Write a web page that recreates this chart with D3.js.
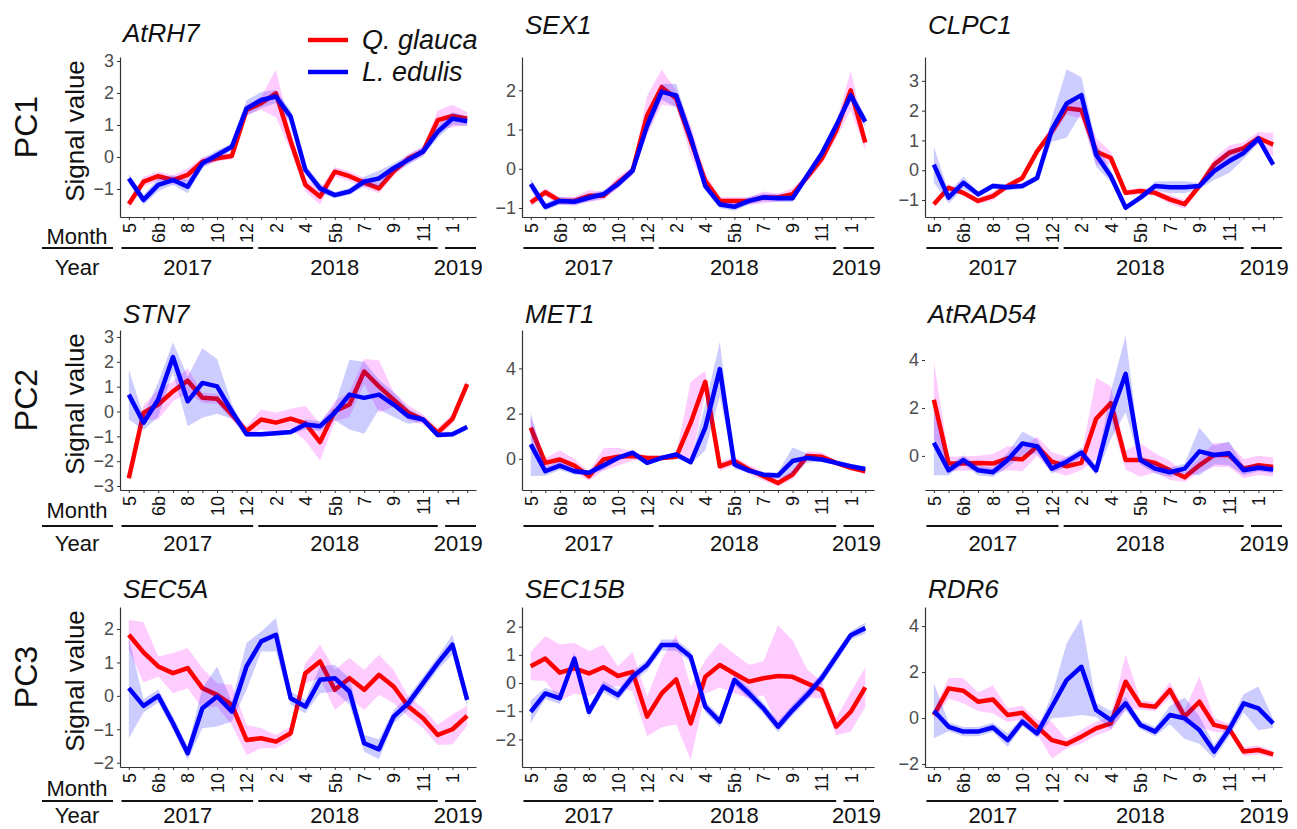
<!DOCTYPE html>
<html>
<head>
<meta charset="utf-8">
<script src="https://cdn.jsdelivr.net/npm/d3@7"></script>
<style>
  body { margin: 0; background: #fff; }
  svg { font-family: "Liberation Sans", Arial, sans-serif; }
</style>
</head>
<body>
<div id="chart"></div>
<script>
// sampling points: 2017-5 .. 2019-2
const months = ['5','6a','6b','7','8','9','10','11','12','1','2','3','4','5a','5b','6','7','8','9','10','11','12','1','2'];
const monthTickLabels = ['5','','6b','','8','','10','','12','','2','','4','','5b','','7','','9','','11','','1',''];
const years = ['2017', '2018', '2019'];
const yearFrom = [-0.5, 8.8, 21.5];
const yearTo = [8.45, 21.0, 23.6];
const yearLabelAt = [4, 14, 22.4];

const species = ['Q. glauca', 'L. edulis'];
const genes = ['AtRH7', 'SEX1', 'CLPC1', 'STN7', 'MET1', 'AtRAD54', 'SEC5A', 'SEC15B', 'RDR6'];
const pcs = ['PC1', 'PC2', 'PC3'];

const yMin = [-1.875, -1.23, -1.57, -3.16, -1.38, -1.42, -2.13, -2.98, -2.13];
const yMax = [3.125, 2.85, 3.8, 3.28, 5.7, 5.25, 2.66, 2.7, 4.83];
const yTicks = [
  [-1, 0, 1, 2, 3], [-1, 0, 1, 2], [-1, 0, 1, 2, 3],
  [-3, -2, -1, 0, 1, 2, 3], [0, 2, 4], [0, 2, 4],
  [-2, -1, 0, 1, 2], [-2, -1, 0, 1, 2], [-2, 0, 2, 4]
];

// mean signal values, Q. glauca
const qMean = [
  [-1.47, -0.77, -0.6, -0.72, -0.56, -0.15, -0.04, 0.03, 1.47, 1.68, 1.99, 0.5, -0.87, -1.24, -0.46, -0.6, -0.8, -0.98, -0.45, -0.05, 0.17, 1.15, 1.28, 1.2],
  [-0.86, -0.6, -0.82, -0.82, -0.69, -0.69, -0.35, -0.05, 1.36, 2.08, 1.79, 0.72, -0.31, -0.82, -0.82, -0.82, -0.73, -0.73, -0.65, -0.22, 0.25, 0.97, 2.0, 0.67],
  [-1.14, -0.59, -0.76, -1.03, -0.87, -0.53, -0.26, 0.63, 1.3, 2.08, 2.02, 0.63, 0.41, -0.76, -0.7, -0.76, -0.98, -1.14, -0.53, 0.19, 0.58, 0.74, 1.08, 0.86],
  [-2.69, -0.05, 0.28, 0.81, 1.24, 0.55, 0.51, -0.12, -0.79, -0.32, -0.45, -0.29, -0.48, -1.23, 0.01, 0.28, 1.61, 1.01, 0.48, -0.05, -0.32, -0.85, -0.3, 1.1],
  [1.38, -0.18, -0.03, -0.3, -0.77, -0.03, 0.09, 0.12, 0.04, 0.04, 0.09, 1.6, 3.41, -0.33, -0.1, -0.47, -0.77, -1.07, -0.7, 0.12, 0.09, -0.18, -0.4, -0.55],
  [2.34, -0.32, -0.32, -0.29, -0.32, -0.1, -0.14, 0.4, -0.24, -0.43, -0.29, 1.55, 2.2, -0.17, -0.17, -0.29, -0.6, -0.89, -0.39, 0.04, 0.04, -0.53, -0.39, -0.46],
  [1.83, 1.3, 0.88, 0.68, 0.83, 0.23, 0.03, -0.27, -1.32, -1.27, -1.37, -1.12, 0.68, 1.03, 0.18, 0.53, 0.18, 0.63, 0.28, -0.32, -0.67, -1.17, -1.0, -0.6],
  [0.6, 0.87, 0.37, 0.52, 0.34, 0.56, 0.25, 0.4, -1.19, -0.37, 0.13, -1.43, 0.22, 0.64, 0.34, 0.05, 0.17, 0.25, 0.22, -0.01, -0.25, -1.55, -1.02, -0.15],
  [0.13, 1.29, 1.19, 0.71, 0.81, 0.13, 0.23, -0.38, -0.96, -1.13, -0.81, -0.45, -0.23, 1.58, 0.57, 0.49, 1.22, 0.06, 0.71, -0.3, -0.45, -1.46, -1.39, -1.58]
];
const qSd = [
  [0.15, 0.15, 0.15, 0.15, 0.2, 0.15, 0.1, 0.1, 0.15, 0.2, 0.75, 0.3, 0.2, 0.25, 0.15, 0.15, 0.15, 0.15, 0.15, 0.15, 0.15, 0.3, 0.35, 0.2],
  [0.1, 0.1, 0.1, 0.1, 0.15, 0.1, 0.15, 0.1, 0.5, 0.45, 0.2, 0.4, 0.2, 0.1, 0.1, 0.1, 0.15, 0.1, 0.15, 0.1, 0.15, 0.2, 0.5, 0.2],
  [0.1, 0.1, 0.1, 0.1, 0.15, 0.1, 0.1, 0.1, 0.2, 0.2, 0.3, 0.45, 0.2, 0.1, 0.1, 0.1, 0.15, 0.15, 0.1, 0.2, 0.25, 0.2, 0.2, 0.4],
  [0.15, 0.3, 0.6, 0.4, 0.5, 0.2, 0.2, 0.2, 0.2, 0.4, 0.4, 0.4, 0.7, 0.75, 0.4, 0.5, 0.5, 1.05, 0.3, 0.3, 0.2, 0.2, 0.2, 0.2],
  [0.5, 0.2, 0.4, 0.3, 0.2, 0.5, 0.4, 0.2, 0.1, 0.1, 0.1, 1.8, 0.5, 0.2, 0.2, 0.2, 0.2, 0.15, 0.2, 0.2, 0.2, 0.1, 0.1, 0.1],
  [1.6, 0.3, 0.3, 0.3, 0.4, 0.5, 0.5, 0.4, 0.4, 0.4, 0.3, 1.7, 0.7, 0.4, 0.7, 0.4, 0.4, 0.2, 0.3, 0.5, 0.5, 0.4, 0.4, 0.4],
  [0.45, 0.9, 0.3, 0.6, 0.6, 0.6, 0.35, 0.6, 0.45, 0.3, 0.2, 0.2, 0.3, 0.5, 0.6, 0.6, 0.6, 0.6, 0.5, 0.3, 0.3, 0.3, 0.45, 0.3],
  [0.5, 0.8, 1.0, 0.9, 0.8, 0.8, 0.35, 0.7, 0.7, 1.2, 1.6, 1.3, 0.6, 0.8, 0.7, 0.6, 0.6, 1.8, 1.3, 0.5, 0.3, 0.3, 0.7, 0.7],
  [0.2, 0.45, 0.55, 0.4, 0.6, 0.3, 0.3, 0.3, 0.8, 0.2, 0.3, 0.3, 0.3, 1.2, 0.2, 0.2, 0.35, 0.3, 1.1, 0.3, 0.2, 0.2, 0.2, 0.15]
];

// mean signal values, L. edulis
const lMean = [
  [-0.67, -1.34, -0.87, -0.72, -0.93, -0.2, 0.06, 0.32, 1.52, 1.78, 1.89, 1.26, -0.4, -0.98, -1.19, -1.08, -0.77, -0.67, -0.35, -0.09, 0.17, 0.79, 1.2, 1.12],
  [-0.39, -0.97, -0.82, -0.84, -0.74, -0.65, -0.39, -0.05, 1.1, 1.96, 1.87, 0.8, -0.44, -0.91, -0.97, -0.82, -0.73, -0.75, -0.75, -0.18, 0.38, 1.1, 1.87, 1.2],
  [0.19, -0.92, -0.42, -0.81, -0.53, -0.57, -0.53, -0.26, 1.36, 2.24, 2.52, 0.52, -0.2, -1.26, -0.92, -0.53, -0.57, -0.57, -0.53, -0.03, 0.3, 0.58, 1.06, 0.19],
  [0.68, -0.45, 0.48, 2.19, 0.41, 1.15, 1.01, 0.01, -0.92, -0.92, -0.88, -0.83, -0.52, -0.59, -0.05, 0.68, 0.55, 0.68, 0.28, -0.19, -0.32, -0.95, -0.92, -0.62],
  [0.64, -0.55, -0.3, -0.55, -0.62, -0.3, 0.04, 0.27, -0.18, 0.04, 0.19, -0.15, 1.38, 3.97, -0.25, -0.52, -0.7, -0.74, -0.1, 0.04, -0.03, -0.18, -0.33, -0.45],
  [0.55, -0.6, -0.17, -0.6, -0.68, -0.17, 0.52, 0.4, -0.53, -0.24, 0.14, -0.6, 1.7, 3.42, -0.17, -0.53, -0.68, -0.53, 0.19, 0.04, 0.11, -0.6, -0.49, -0.57],
  [0.23, -0.3, 0.0, -0.82, -1.72, -0.37, -0.02, -0.47, 0.88, 1.63, 1.83, -0.07, -0.32, 0.48, 0.53, 0.13, -1.42, -1.6, -0.62, -0.22, 0.38, 0.98, 1.53, -0.12],
  [-1.02, -0.37, -0.54, 0.87, -1.02, -0.13, -0.43, 0.22, 0.64, 1.35, 1.35, 0.93, -0.84, -1.37, 0.11, -0.37, -0.9, -1.55, -0.96, -0.43, 0.17, 0.93, 1.7, 1.95],
  [0.32, -0.38, -0.59, -0.59, -0.41, -0.96, -0.16, -0.67, 0.49, 1.65, 2.23, 0.35, -0.09, 0.64, -0.3, -0.59, 0.13, -0.01, -0.52, -1.46, -0.52, 0.64, 0.42, -0.23]
];
const lSd = [
  [0.15, 0.15, 0.2, 0.15, 0.2, 0.15, 0.15, 0.1, 0.25, 0.25, 0.2, 0.2, 0.15, 0.15, 0.1, 0.1, 0.15, 0.25, 0.15, 0.15, 0.15, 0.2, 0.2, 0.15],
  [0.15, 0.1, 0.1, 0.1, 0.1, 0.1, 0.1, 0.1, 0.2, 0.2, 0.3, 0.2, 0.1, 0.1, 0.1, 0.1, 0.1, 0.1, 0.1, 0.1, 0.1, 0.15, 0.15, 0.15],
  [0.6, 0.2, 0.2, 0.1, 0.1, 0.1, 0.1, 0.1, 0.4, 1.15, 0.6, 0.4, 0.2, 0.1, 0.1, 0.15, 0.2, 0.2, 0.1, 0.3, 0.4, 0.2, 0.15, 0.1],
  [1.0, 0.3, 0.7, 0.6, 1.0, 1.4, 1.1, 0.3, 0.1, 0.1, 0.1, 0.1, 0.2, 0.2, 0.3, 1.4, 1.45, 0.6, 0.5, 0.3, 0.1, 0.1, 0.1, 0.1],
  [1.4, 0.2, 0.2, 0.15, 0.1, 0.2, 0.1, 0.1, 0.1, 0.1, 0.1, 0.1, 1.0, 1.2, 0.2, 0.1, 0.1, 0.15, 0.6, 0.2, 0.1, 0.1, 0.1, 0.1],
  [1.35, 0.2, 0.2, 0.2, 0.2, 0.3, 0.5, 0.3, 0.2, 0.2, 0.2, 0.2, 1.0, 1.6, 0.2, 0.2, 0.2, 0.2, 1.0, 0.4, 0.5, 0.2, 0.15, 0.15],
  [1.5, 0.2, 0.2, 0.2, 0.2, 0.6, 0.9, 0.3, 0.7, 0.3, 0.5, 0.2, 0.2, 0.4, 0.4, 0.4, 0.25, 0.3, 0.2, 0.2, 0.2, 0.2, 0.3, 0.2],
  [0.4, 0.2, 0.2, 0.2, 0.2, 0.2, 0.2, 0.2, 0.2, 0.2, 0.2, 0.2, 0.2, 0.2, 0.2, 0.2, 0.2, 0.2, 0.2, 0.2, 0.2, 0.2, 0.15, 0.2],
  [1.2, 0.2, 0.2, 0.2, 0.2, 0.3, 0.2, 0.2, 0.5, 1.6, 2.1, 0.3, 0.4, 0.3, 0.2, 0.2, 0.4, 0.9, 0.6, 0.3, 0.3, 0.4, 0.95, 0.2]
];

// layout
const W = 1297, H = 829;
const colX = [120, 522, 925];
const colW = [356, 352, 357];
const rowTop = [57, 330, 607];
const rowBottom = [217, 490, 767];
const titleY = [[42, 34, 34], [323, 323, 323], [598, 598, 598]];
const monthY = [236, 510, 788];
const yearLineY = [248, 526, 801];
const yearTextY = [267, 543, 815];

const lineColors = ['#ff0000', '#0000ff'];
const ribbonColors = ['rgba(255,0,255,0.2)', 'rgba(0,0,255,0.2)'];

const svg = d3.select('#chart').append('svg')
  .attr('width', W).attr('height', H);

svg.append('rect').attr('width', W).attr('height', H).attr('fill', '#fff');

genes.forEach((gene, p) => {
  const row = Math.floor(p / 3), col = p % 3;
  const x = d3.scaleLinear().domain([-0.6, 23.6]).range([colX[col], colX[col] + colW[col]]);
  const y = d3.scaleLinear().domain([yMin[p], yMax[p]]).range([rowBottom[row], rowTop[row]]);
  const g = svg.append('g');

  const series = [
    { mean: qMean[p], sd: qSd[p] },
    { mean: lMean[p], sd: lSd[p] }
  ];

  series.forEach((s, k) => {
    const pts = s.mean.map((v, i) => ({ i, v, sd: s.sd[i] }));
    const area = d3.area()
      .x(d => x(d.i))
      .y0(d => y(d.v - d.sd))
      .y1(d => y(d.v + d.sd));
    const line = d3.line()
      .x(d => x(d.i))
      .y(d => y(d.v));
    g.append('path').datum(pts)
      .attr('d', area)
      .attr('fill', ribbonColors[k]);
    g.append('path').datum(pts)
      .attr('d', line)
      .attr('fill', 'none')
      .attr('stroke', lineColors[k])
      .attr('stroke-width', 4.5)
      .attr('stroke-linejoin', 'round');
  });

  // y axis
  const yAx = g.append('g')
    .attr('transform', `translate(${colX[col]},0)`)
    .call(d3.axisLeft(y).tickValues(yTicks[p]).tickFormat(d3.format('d'))
      .tickSize(3).tickSizeOuter(0).tickPadding(3));
  yAx.selectAll('text').attr('fill', '#4d4d4d').style('font-size', '18px');
  yAx.selectAll('line').attr('stroke', '#333');
  yAx.select('.domain').attr('stroke', '#333').attr('stroke-width', 1.2);
  if (gene === 'AtRAD54') yAx.select('.domain').remove();

  // x axis
  const xAx = g.append('g')
    .attr('transform', `translate(0,${rowBottom[row]})`)
    .call(d3.axisBottom(x).tickValues(d3.range(months.length)).tickSize(3).tickSizeOuter(0)
      .tickFormat(i => monthTickLabels[i]));
  xAx.select('.domain').attr('stroke', '#333').attr('stroke-width', 1.2);
  xAx.selectAll('line').attr('stroke', '#333');
  xAx.selectAll('text')
    .attr('transform', 'rotate(-90)')
    .attr('x', -6).attr('y', 0).attr('dy', '0.35em')
    .style('text-anchor', 'end')
    .style('font-size', '18px')
    .attr('fill', '#111');

  // year bands
  years.forEach((yr, j) => {
    g.append('line')
      .attr('x1', x(yearFrom[j])).attr('x2', Math.min(x(yearTo[j]), colX[col] + colW[col]))
      .attr('y1', yearLineY[row]).attr('y2', yearLineY[row])
      .attr('stroke', '#111').attr('stroke-width', 2);
    g.append('text')
      .attr('x', x(yearLabelAt[j])).attr('y', yearTextY[row])
      .attr('dy', '0.35em')
      .attr('text-anchor', 'middle')
      .style('font-size', '22px')
      .attr('fill', '#111')
      .text(yr);
  });

  // gene title
  g.append('text')
    .attr('x', colX[col] + 3).attr('y', titleY[row][col])
    .style('font-size', '26px').style('font-style', 'italic')
    .attr('fill', '#111')
    .text(gene);

  if (col === 0) {
    const cy = (rowTop[row] + rowBottom[row]) / 2 - 6;
    g.append('text')
      .attr('transform', `translate(75,${cy}) rotate(-90)`)
      .attr('text-anchor', 'middle').attr('dy', '0.35em')
      .style('font-size', '26px').attr('fill', '#111')
      .text('Signal value');
    g.append('text')
      .attr('transform', `translate(26,${cy - 4}) rotate(-90)`)
      .attr('text-anchor', 'middle').attr('dy', '0.35em')
      .style('font-size', '32px').attr('fill', '#111')
      .text(pcs[row]);
    g.append('text')
      .attr('x', 77).attr('y', monthY[row]).attr('dy', '0.35em')
      .attr('text-anchor', 'middle').style('font-size', '22px').attr('fill', '#111')
      .text('Month');
    g.append('line')
      .attr('x1', 42).attr('x2', 113)
      .attr('y1', yearLineY[row]).attr('y2', yearLineY[row])
      .attr('stroke', '#111').attr('stroke-width', 2);
    g.append('text')
      .attr('x', 77).attr('y', yearTextY[row]).attr('dy', '0.35em')
      .attr('text-anchor', 'middle').style('font-size', '22px').attr('fill', '#111')
      .text('Year');
  }
});

// legend
const legend = svg.append('g').attr('transform', 'translate(308,40)');
species.forEach((sp, k) => {
  legend.append('line')
    .attr('x1', 0).attr('x2', 40)
    .attr('y1', k * 32).attr('y2', k * 32)
    .attr('stroke', lineColors[k]).attr('stroke-width', 4.5);
  legend.append('text')
    .attr('x', 54).attr('y', k * 32).attr('dy', '0.35em')
    .style('font-size', '27px').style('font-style', 'italic')
    .attr('fill', '#111')
    .text(sp);
});
</script>
</body>
</html>
